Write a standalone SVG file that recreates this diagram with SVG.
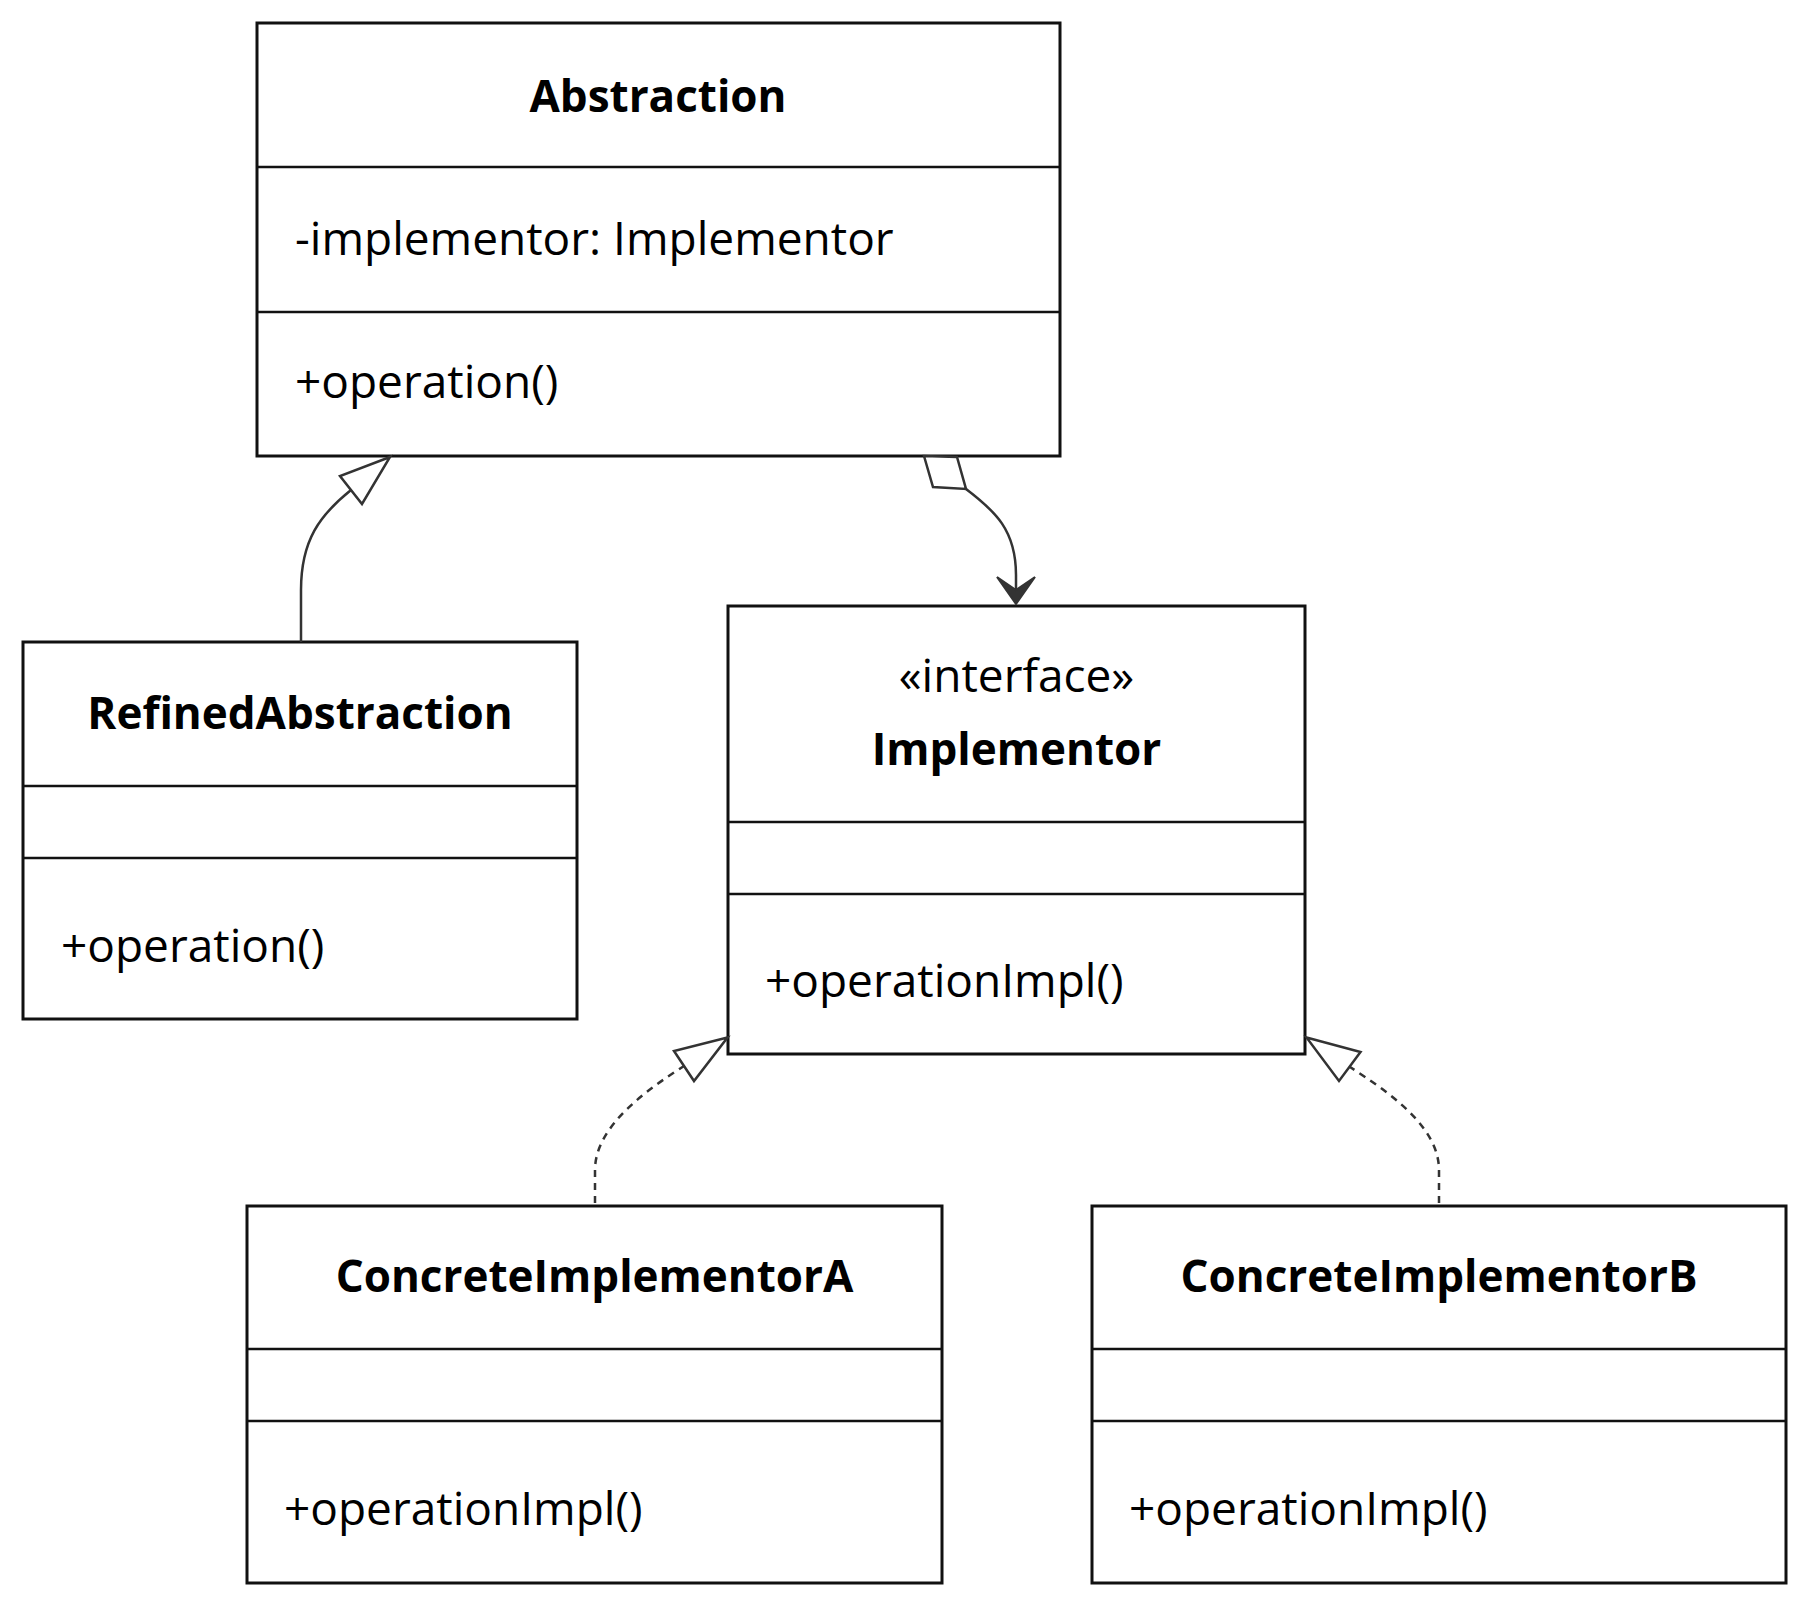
<svg xmlns="http://www.w3.org/2000/svg" width="1810" height="1608" viewBox="0 0 1810 1608">
<style>
.box{fill:#fff;stroke:#111;stroke-width:3}
.div{stroke:#111;stroke-width:2.5}
.t{font-family:"Open Sans","Liberation Sans",sans-serif;font-size:46px;fill:#000}
.b{font-family:"Open Sans","Liberation Sans",sans-serif;font-size:44px;font-weight:700;fill:#000;text-anchor:middle}
.c{fill:none;stroke:#333;stroke-width:2.5}
.d{stroke-dasharray:7,6}
.m{fill:#fff;stroke:#333;stroke-width:2.5;stroke-linejoin:miter}
.a{fill:#333;stroke:#333;stroke-width:2;stroke-linejoin:miter}
</style>
<rect width="1810" height="1608" fill="#fff"/>
<g id="Abstraction">
<rect class="box" x="257" y="23" width="803" height="433"/>
<line class="div" x1="257" y1="167" x2="1060" y2="167"/>
<line class="div" x1="257" y1="312" x2="1060" y2="312"/>
<text class="b" x="658" y="112">Abstraction</text>
<text class="t" x="295" y="255">-implementor: Implementor</text>
<text class="t" x="295" y="398">+operation()</text>
</g>
<g id="RefinedAbstraction">
<rect class="box" x="23" y="642" width="554" height="377"/>
<line class="div" x1="23" y1="786" x2="577" y2="786"/>
<line class="div" x1="23" y1="858" x2="577" y2="858"/>
<text class="b" x="300" y="729">RefinedAbstraction</text>
<text class="t" x="61" y="962">+operation()</text>
</g>
<g id="Implementor">
<rect class="box" x="728" y="606" width="577" height="448"/>
<line class="div" x1="728" y1="822" x2="1305" y2="822"/>
<line class="div" x1="728" y1="894" x2="1305" y2="894"/>
<text class="t" x="1016.5" y="692" text-anchor="middle">«interface»</text>
<text class="b" x="1016.5" y="765">Implementor</text>
<text class="t" x="765" y="997">+operationImpl()</text>
</g>
<g id="ConcreteImplementorA">
<rect class="box" x="247" y="1206" width="695" height="377"/>
<line class="div" x1="247" y1="1349" x2="942" y2="1349"/>
<line class="div" x1="247" y1="1421" x2="942" y2="1421"/>
<text class="b" x="594.5" y="1292">ConcreteImplementorA</text>
<text class="t" x="284" y="1525">+operationImpl()</text>
</g>
<g id="ConcreteImplementorB">
<rect class="box" x="1092" y="1206" width="694" height="377"/>
<line class="div" x1="1092" y1="1349" x2="1786" y2="1349"/>
<line class="div" x1="1092" y1="1421" x2="1786" y2="1421"/>
<text class="b" x="1439" y="1292">ConcreteImplementorB</text>
<text class="t" x="1129" y="1525">+operationImpl()</text>
</g>
<g id="connectors">
<path class="c" d="M301,642 L301,590 C301,540 320,515 351,490"/>
<polygon class="m" points="390,457 340,476 362,504"/>
<path class="c" d="M966,489 C995,511 1016,530 1016,575 L1016,596"/>
<polygon class="m" points="924,456 933,487 966,489 957,457"/>
<polygon class="a" points="997,577 1016,604 1035,577 1016,590"/>
<path class="c d" d="M595,1203 L595,1170 C595,1125 650,1088 684,1066"/>
<polygon class="m" points="727.5,1037.5 674,1051 694,1081"/>
<path class="c d" d="M1439,1203 L1439,1170 C1439,1125 1385,1090 1350,1067"/>
<polygon class="m" points="1306.5,1037.5 1360.5,1052 1339,1081"/>
</g>
</svg>
